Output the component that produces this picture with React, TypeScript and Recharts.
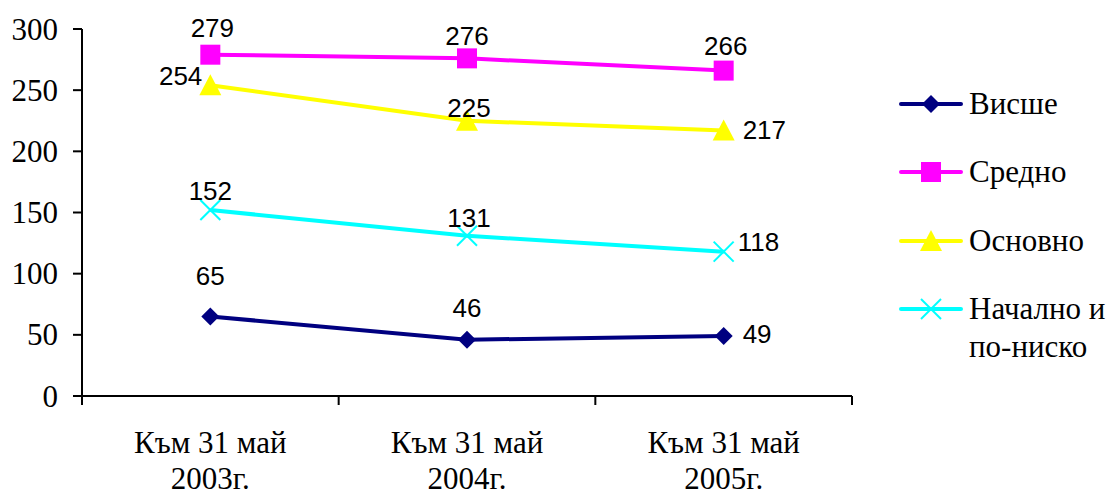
import { ReactElement } from "react";
import { LabelList, Line, LineChart, XAxis, YAxis } from "recharts";

const categories = ["Към 31 май 2003г.", "Към 31 май 2004г.", "Към 31 май 2005г."];
const vishe = [65, 46, 49];
const sredno = [279, 276, 266];
const osnovno = [254, 225, 217];
const nachalno = [152, 131, 118];
const yTicks = [0, 50, 100, 150, 200, 250, 300];

const series = [
  { key: "vishe", name: "Висше", color: "#000080", marker: "diamond" },
  { key: "sredno", name: "Средно", color: "#ff00ff", marker: "square" },
  { key: "osnovno", name: "Основно", color: "#ffff00", marker: "triangle" },
  { key: "nachalno", name: "Начално и по-ниско", color: "#00ffff", marker: "cross" },
];

const data = categories.map((cat, i) => ({
  cat,
  vishe: vishe[i],
  sredno: sredno[i],
  osnovno: osnovno[i],
  nachalno: nachalno[i],
}));

// where each value label sits relative to its point: [dx, dy, anchor]
const labelPos: Record<string, [number, number, string][]> = {
  vishe: [[0, -40, "middle"], [0, -32, "middle"], [19, -2, "start"]],
  sredno: [[2, -27, "middle"], [0, -22, "middle"], [2, -25, "middle"]],
  osnovno: [[-8, -9, "end"], [2, -13, "middle"], [19, -1, "start"]],
  nachalno: [[0, -19, "middle"], [2, -18, "middle"], [14, -10, "start"]],
};

const W = 1113;
const H = 495;
const M = { top: 29, right: 261, bottom: 0, left: 0 };
const Y_AXIS_W = 82;
const X_AXIS_H = 99;
const plotW = W - M.left - M.right - Y_AXIS_W;
const halfBand = plotW / categories.length / 2;

const serif = "'Liberation Serif', 'Times New Roman', serif";
const sans = "'Liberation Sans', Arial, sans-serif";

function Marker({ cx, cy, shape, color }: { cx: number; cy: number; shape: string; color: string }): ReactElement {
  if (shape === "diamond") {
    return <polygon points={`${cx},${cy - 9} ${cx + 9},${cy} ${cx},${cy + 9} ${cx - 9},${cy}`} fill={color} />;
  }
  if (shape === "square") {
    return <rect x={cx - 10} y={cy - 10} width={20} height={20} fill={color} />;
  }
  if (shape === "triangle") {
    return <polygon points={`${cx},${cy - 11} ${cx + 11},${cy + 10} ${cx - 11},${cy + 10}`} fill={color} />;
  }
  return (
    <g stroke={color} strokeWidth={2}>
      <line x1={cx - 10} y1={cy - 10} x2={cx + 10} y2={cy + 10} />
      <line x1={cx - 10} y1={cy + 10} x2={cx + 10} y2={cy - 10} />
    </g>
  );
}

function CategoryTick(props: any) {
  const { x, y, payload, index, visibleTicksCount } = props;
  const text: string = payload.value;
  const cut = text.lastIndexOf(" ");
  const last = index === visibleTicksCount - 1;
  return (
    <g>
      <line x1={x - halfBand} y1={y} x2={x - halfBand} y2={y + 9} stroke="#000" strokeWidth={2} />
      {last && <line x1={x + halfBand} y1={y} x2={x + halfBand} y2={y + 9} stroke="#000" strokeWidth={2} />}
      <text x={x} y={y + 57} textAnchor="middle" fontSize={31} fontFamily={serif} fill="#000">
        {text.slice(0, cut)}
      </text>
      <text x={x} y={y + 93} textAnchor="middle" fontSize={31} fontFamily={serif} fill="#000">
        {text.slice(cut + 1)}
      </text>
    </g>
  );
}

function ValueTick(props: any) {
  const { x, y, payload } = props;
  return (
    <text x={x} y={y} textAnchor="end" dominantBaseline="central" fontSize={31} fontFamily={serif} fill="#000">
      {payload.value}
    </text>
  );
}

function LegendBox() {
  return (
    <div style={{ position: "absolute", left: 899, top: 0, width: 214, height: H }}>
      {series.map((s, i) => {
        const cy = 104 + i * 68.3;
        return (
          <div key={s.key}>
            <svg width={66} height={26} style={{ position: "absolute", left: 0, top: cy - 13 }}>
              <line x1={2} y1={13} x2={62} y2={13} stroke={s.color} strokeWidth={4} strokeLinecap="round" />
              <Marker cx={32} cy={13} shape={s.marker} color={s.color} />
            </svg>
            <div
              style={{
                position: "absolute",
                left: 70,
                top: cy - 19,
                width: 144,
                fontFamily: serif,
                fontSize: 31,
                lineHeight: "38px",
                color: "#000",
              }}
            >
              {s.name}
            </div>
          </div>
        );
      })}
    </div>
  );
}

export default function App(): ReactElement {
  return (
    <div style={{ position: "absolute", left: 0, top: 0, width: W, height: H }}>
      <LineChart width={W} height={H} data={data} margin={M}>
        <XAxis
          dataKey="cat"
          height={X_AXIS_H}
          padding={{ left: halfBand, right: halfBand }}
          axisLine={{ stroke: "#000", strokeWidth: 2 }}
          tickLine={false}
          tickSize={0}
          tickMargin={0}
          interval={0}
          tick={<CategoryTick />}
        />
        <YAxis
          width={Y_AXIS_W}
          domain={[0, 300]}
          ticks={yTicks}
          interval={0}
          axisLine={{ stroke: "#000", strokeWidth: 2 }}
          tickLine={{ stroke: "#000", strokeWidth: 2 }}
          tickSize={9}
          tickMargin={15}
          tick={<ValueTick />}
        />
        {series.map((s) => (
          <Line
            key={s.key}
            dataKey={s.key}
            name={s.name}
            type="linear"
            stroke={s.color}
            strokeWidth={4}
            isAnimationActive={false}
            activeDot={false}
            dot={(p: any) => <Marker key={`${s.key}-${p.index}`} cx={p.cx} cy={p.cy} shape={s.marker} color={s.color} />}
          >
            <LabelList
              dataKey={s.key}
              content={(p: any) => {
                const [dx, dy, anchor] = labelPos[s.key][p.index];
                return (
                  <text
                    x={p.x + dx}
                    y={p.y + dy}
                    textAnchor={anchor as any}
                    dominantBaseline="central"
                    fontSize={26}
                    fontFamily={sans}
                    fill="#000"
                  >
                    {p.value}
                  </text>
                );
              }}
            />
          </Line>
        ))}
      </LineChart>
      <LegendBox />
    </div>
  );
}
